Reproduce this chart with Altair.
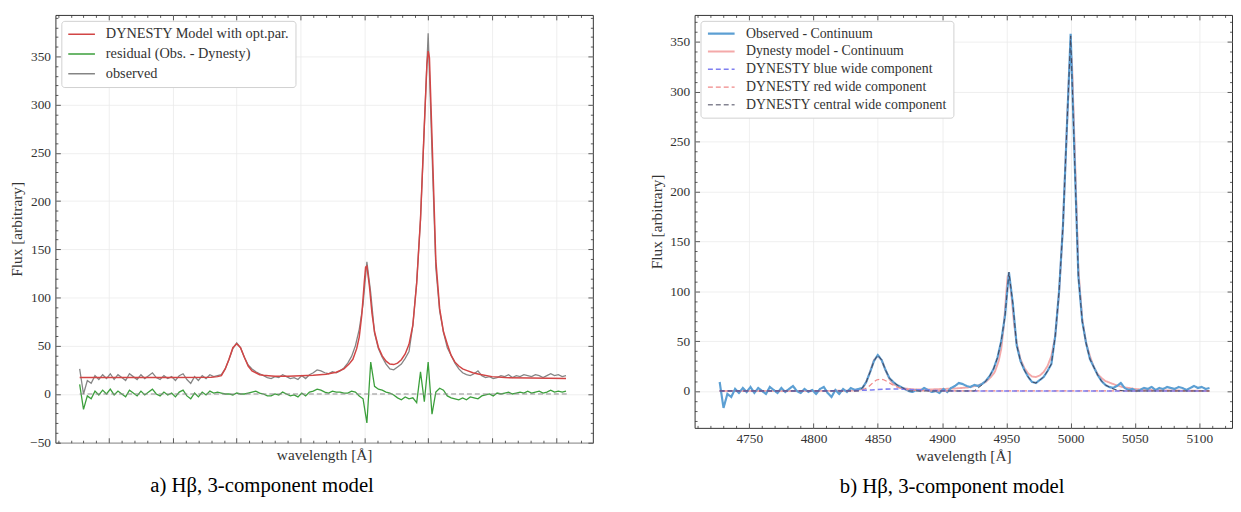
import altair as alt
import pandas as pd

FONT = "Liberation Serif"

# ---------------- data ----------------
WAVE = list(range(4727, 5109, 3))  # common wavelength sampling, 128 points

# right panel: observed - continuum
R_OBS = [9, -17, -3, -6, 2, -2, 3, -1, 4, -2,
         3, 0, -3, 4, 1, -2, 3, -1, 2, 5,
         0, -2, 2, -1, 1, -3, 2, 4, -2, -6,
         1, -3, 2, -1, 3, 1, 2, 3, 9, 19,
         30, 36, 31, 21, 13, 9, 6, 4, 2, 0,
         -1, 1, 0, 3, 1, -1, 0, -2, 2, -1,
         3, 5, 8, 7, 5, 4, 6, 5, 7, 10,
         15, 22, 33, 50, 76, 119, 88, 46, 30, 21,
         14, 9, 8, 11, 14, 20, 27, 55, 100, 165,
         262, 358, 235, 115, 70, 48, 32, 24, 16, 10,
         6, 4, 3, 5, 8, 3, 1, 2, 0, 1,
         3, 2, 4, 1, 3, 2, 4, 3, 2, 4,
         3, 1, 3, 5, 3, 4, 2, 3]

# left panel: observed
L_OBS = [26, 0, 14, 11, 19, 15, 20, 16, 21, 15,
         20, 17, 14, 21, 18, 15, 20, 16, 19, 22,
         17, 15, 19, 16, 18, 14, 19, 21, 15, 11,
         18, 14, 19, 16, 20, 18, 19, 20, 26, 36,
         47, 53, 48, 38, 30, 26, 23, 21, 19, 17,
         16, 18, 17, 20, 18, 16, 17, 15, 19, 16,
         20, 22, 25, 24, 22, 21, 23, 22, 24, 27,
         32, 39, 50, 67, 93, 137, 105, 63, 47, 38,
         31, 26, 25, 28, 31, 37, 44, 71, 116, 181,
         278, 374, 251, 131, 86, 64, 48, 40, 32, 26,
         22, 20, 19, 21, 24, 19, 17, 18, 16, 17,
         19, 18, 20, 17, 19, 18, 20, 19, 18, 20,
         19, 17, 19, 21, 19, 20, 18, 19]

# left panel: residual (Obs. - Dynesty)
L_RES = [10, -16, -2, -5, 3, -1, 4, 0, 5, -1,
         3, 0, -3, 4, 1, -2, 3, -1, 2, 5,
         0, -2, 2, -1, 1, -3, 2, 4, -2, -5,
         1, -3, 2, -1, 3, 1, 2, 1, 0, 0,
         -1, 1, 0, 0, 1, 2, 3, 1, 0, -2,
         -2, 0, -1, 2, 0, -2, -1, -3, 1, -2,
         2, 3, 5, 4, 2, 1, 3, 2, 2, 1,
         1, 3, 2, -2, -5, -30, 33, 8, 5, 4,
         2, 1, -1, -4, -6, -3, -5, -4, -9, 23,
         -8, 33, -21, 2, 6, 4, -2, -4, -5, -6,
         -4, -6, -3, -4, -5, -2, -1, 0, -2, 1,
         0, 1, 2, 0, 1, 2, 1, 3, 1, 2,
         3, 1, 2, 4, 2, 3, 2, 3]

# DYNESTY model (left: with continuum, right: minus continuum)
MODEL_WAVE = [4727, 4760, 4800, 4830, 4835, 4838, 4841, 4844, 4847, 4850,
              4853, 4856, 4859, 4862, 4865, 4868, 4871, 4875, 4880, 4890,
              4900, 4910, 4920, 4928, 4934, 4938, 4941, 4944, 4946, 4948,
              4950, 4951, 4952, 4954, 4956, 4958, 4961, 4964, 4967, 4970,
              4973, 4976, 4979, 4982, 4985, 4988, 4991, 4994, 4997, 4999,
              5000, 5001, 5003, 5006, 5009, 5012, 5015, 5018, 5021, 5024,
              5027, 5030, 5035, 5040, 5050, 5060, 5080, 5108]
R_MODEL = [0, 0, 0, 0.3, 1, 2, 9, 19, 31, 35,
           31, 21, 12, 7, 5, 3, 2.5, 2, 1.5, 1.5,
           2, 2.5, 3.5, 5.5, 9, 14, 19, 30, 42, 65,
           100, 115, 116, 95, 67, 48, 32, 23, 17.5, 14.5,
           14, 15.5, 19, 25, 35, 55, 98, 165, 262, 325,
           339, 332, 250, 122, 72, 48, 35, 24, 17, 13,
           10, 8.5, 6, 4, 2, 1, 0.5, 0]
L_MODEL = [17, 17, 17, 17.3, 18, 19, 26, 36, 48, 52,
           48, 38, 29, 24, 22, 20, 19.5, 19, 18.5, 18.5,
           19, 19.5, 20.5, 22.5, 26, 31, 36, 47, 59, 82,
           116.5, 131.5, 132.5, 111.5, 83.5, 64.5, 48.5, 39.5, 34, 31,
           30.5, 32, 35.5, 41.5, 51.5, 71.5, 114.5, 181.5, 278.5, 341.5,
           355.5, 348.5, 266.5, 138.5, 88.5, 64.5, 51.5, 40, 33, 29,
           26, 24.5, 22, 20.5, 18, 17, 16.5, 16]

BLUE_WAVE = [4727, 4800, 4830, 4845, 4855, 4865, 4875, 4890, 4910, 5108]
BLUE_WIDE = [0, 0, 0.3, 1, 1.8, 2, 1.5, 0.6, 0, 0]

RED_WAVE = [4727, 4830, 4836, 4840, 4843, 4846, 4849, 4852, 4855, 4858,
            4861, 4864, 4867, 4870, 4875, 4880, 4890, 5108]
RED_WIDE = [0, 0, 0.5, 2, 4.5, 8, 11, 12, 11, 9,
            6.5, 4.5, 3, 2, 1, 0.5, 0, 0]

CENTRAL_WAVE = [4727, 4835, 4838, 4841, 4844, 4847, 4850, 4853, 4856, 4859,
                4862, 4865, 4868, 4871, 4874, 4925, 4931, 4934, 4937, 4940,
                4943, 4946, 4949, 4952, 4955, 4958, 4961, 4964, 4967, 4970,
                4973, 4976, 4979, 4982, 4985, 4988, 4991, 4994, 4997, 5000,
                5003, 5006, 5009, 5012, 5015, 5018, 5021, 5024, 5027, 5030,
                5033, 5036, 5042, 5108]
CENTRAL_WIDE = [0, 0, 3, 9, 19, 30, 36, 31, 21, 13,
                9, 6, 4, 2, 0, 0, 6, 10, 15, 22,
                33, 50, 76, 119, 88, 46, 30, 21, 14, 9,
                8, 11, 14, 20, 27, 55, 100, 165, 262, 356,
                235, 115, 70, 48, 32, 24, 16, 10, 6, 4,
                2, 1, 0, 0]

ZERO_WAVE = [4727, 5110]
ZERO_VAL = [0, 0]

LEFT_SERIES = ["DYNESTY Model with opt.par.", "residual (Obs. - Dynesty)", "observed"]
LEFT_COLORS = ["#d24545", "#3b9f3b", "#858585"]
RIGHT_SERIES = ["Observed - Continuum", "Dynesty model - Continuum",
                "DYNESTY blue wide component", "DYNESTY red wide component",
                "DYNESTY central wide component"]
RIGHT_COLORS = ["#5c9fd3", "#f4a9a9", "#7f7ff0", "#f08888", "#45455a"]
RIGHT_DASH = [[1, 0], [1, 0], [5, 3], [5, 3], [5, 3]]
RIGHT_WIDTH = [2.2, 1.0, 1.6, 1.6, 1.6]

X_MAJOR = [4750, 4800, 4850, 4900, 4950, 5000, 5050, 5100]
X_MINOR = [v for v in range(4710, 5130, 10) if v % 50 != 0]
L_Y_MAJOR = [-50, 0, 50, 100, 150, 200, 250, 300, 350]
L_Y_MINOR = [v for v in range(-50, 395, 10) if v % 50 != 0]
R_Y_MAJOR = [0, 50, 100, 150, 200, 250, 300, 350]
R_Y_MINOR = [v for v in range(-30, 380, 10) if v % 50 != 0]


def frame(w, f, name):
    assert len(w) == len(f), name
    return pd.DataFrame({"w": w, "f": f, "series": name})


left_df = pd.concat([
    frame(WAVE, L_OBS, LEFT_SERIES[2]),
    frame(MODEL_WAVE, L_MODEL, LEFT_SERIES[0]),
    frame(WAVE, L_RES, LEFT_SERIES[1]),
])
zero_df = frame(ZERO_WAVE, ZERO_VAL, "zero")
right_df = pd.concat([
    frame(MODEL_WAVE, R_MODEL, RIGHT_SERIES[1]),
    frame(WAVE, R_OBS, RIGHT_SERIES[0]),
    frame(RED_WAVE, RED_WIDE, RIGHT_SERIES[3]),
    frame(BLUE_WAVE, BLUE_WIDE, RIGHT_SERIES[2]),
    frame(CENTRAL_WAVE, CENTRAL_WIDE, RIGHT_SERIES[4]),
])


def tick_layers(df, xs, ys, ymaj, ymin):
    layers = []
    for xo, yo, xv, yv, sz in [("bottom", "left", X_MAJOR, ymaj, 5),
                               ("bottom", "left", X_MINOR, ymin, 2.5),
                               ("top", "right", X_MAJOR, ymaj, 5),
                               ("top", "right", X_MINOR, ymin, 2.5)]:
        ax = alt.Axis(orient=xo, values=xv, labels=False, domain=False, grid=False,
                      ticks=True, tickSize=sz, offset=-sz, title=None,
                      tickColor="#333333", tickWidth=0.8)
        ay = alt.Axis(orient=yo, values=yv, labels=False, domain=False, grid=False,
                      ticks=True, tickSize=sz, offset=-sz, title=None,
                      tickColor="#333333", tickWidth=0.8)
        layers.append(
            alt.Chart(df).mark_point(opacity=0).encode(
                x=alt.X("w:Q", scale=xs, axis=ax),
                y=alt.Y("f:Q", scale=ys, axis=ay),
            )
        )
    return layers


def legend(size, rowpad, cliph):
    return alt.Legend(title=None, orient="top-left", offset=6, padding=6,
                      strokeColor="#d0d0d0", fillColor="white", cornerRadius=3,
                      labelFont=FONT, labelFontSize=size, labelColor="#333333",
                      symbolType="stroke", symbolSize=729, symbolStrokeWidth=1.5,
                      labelOffset=10, rowPadding=rowpad, clipHeight=cliph,
                      labelLimit=400)


GRID = dict(grid=True, gridColor="#ebebeb", gridWidth=0.8, domain=False, ticks=False,
            labelFont=FONT, titleFont=FONT, labelColor="#333333", titleColor="#333333",
            titleFontWeight="normal", format="d")

# ---------------- left panel ----------------
lx = alt.Scale(domain=[4708, 5129], nice=False, zero=False)
ly = alt.Scale(domain=[-50.5, 393], nice=False, zero=False)
l_color = alt.Color("series:N", scale=alt.Scale(domain=LEFT_SERIES, range=LEFT_COLORS),
                    legend=legend(14.5, 4, 15))

l_main_x = alt.Axis(values=X_MAJOR, labels=False, title="wavelength [Å]",
                    titleFontSize=15.5, titlePadding=5, **GRID)
l_main_y = alt.Axis(values=L_Y_MAJOR, labelFontSize=13.5, labelPadding=5,
                    title="Flux [arbitrary]", titleFontSize=15.5, titlePadding=5, **GRID)

left_layers = [
    alt.Chart(left_df[left_df.series == LEFT_SERIES[2]]).mark_line(strokeWidth=1.3, clip=True).encode(
        x=alt.X("w:Q", scale=lx, axis=l_main_x), y=alt.Y("f:Q", scale=ly, axis=l_main_y), color=l_color),
    alt.Chart(left_df[left_df.series == LEFT_SERIES[0]]).mark_line(strokeWidth=1.5, clip=True).encode(
        x=alt.X("w:Q", scale=lx, axis=None), y=alt.Y("f:Q", scale=ly, axis=None), color=l_color),
    alt.Chart(left_df[left_df.series == LEFT_SERIES[1]]).mark_line(strokeWidth=1.3, clip=True).encode(
        x=alt.X("w:Q", scale=lx, axis=None), y=alt.Y("f:Q", scale=ly, axis=None), color=l_color),
    alt.Chart(zero_df).mark_line(strokeWidth=1, strokeDash=[5, 3], color="#8a8a8a", clip=True).encode(
        x=alt.X("w:Q", scale=lx, axis=None), y=alt.Y("f:Q", scale=ly, axis=None)),
] + tick_layers(left_df, lx, ly, L_Y_MAJOR, L_Y_MINOR)

left = alt.layer(*left_layers).resolve_axis(x="independent", y="independent").properties(
    width=544, height=433,
    title=alt.TitleParams(text="a) Hβ, 3-component model", orient="bottom", anchor="start",
                          frame="group", dx=96, offset=12, font=FONT, fontSize=21,
                          fontWeight="normal", color="black"),
)

# ---------------- right panel ----------------
rx = alt.Scale(domain=[4707.5, 5125.5], nice=False, zero=False)
ry = alt.Scale(domain=[-37, 377], nice=False, zero=False)
r_leg = legend(14, 4, 14)
r_color = alt.Color("series:N", scale=alt.Scale(domain=RIGHT_SERIES, range=RIGHT_COLORS), legend=r_leg)
r_dash = alt.StrokeDash("series:N", scale=alt.Scale(domain=RIGHT_SERIES, range=RIGHT_DASH), legend=r_leg)
r_width = alt.StrokeWidth("series:N", scale=alt.Scale(domain=RIGHT_SERIES, range=RIGHT_WIDTH), legend=r_leg)

r_main_x = alt.Axis(values=X_MAJOR, labelFontSize=13.5, labelPadding=4, title="wavelength [Å]",
                    titleFontSize=15.5, titlePadding=4, **GRID)
r_main_y = alt.Axis(values=R_Y_MAJOR, labelFontSize=13.5, labelPadding=5,
                    title="Flux [arbitrary]", titleFontSize=15.5, titlePadding=5, **GRID)

right_layers = []
for i, name in enumerate([RIGHT_SERIES[1], RIGHT_SERIES[0], RIGHT_SERIES[3],
                          RIGHT_SERIES[2], RIGHT_SERIES[4]]):
    right_layers.append(
        alt.Chart(right_df[right_df.series == name]).mark_line(clip=True).encode(
            x=alt.X("w:Q", scale=rx, axis=r_main_x if i == 0 else None),
            y=alt.Y("f:Q", scale=ry, axis=r_main_y if i == 0 else None),
            color=r_color, strokeDash=r_dash, strokeWidth=r_width,
        )
    )
right_layers += tick_layers(right_df, rx, ry, R_Y_MAJOR, R_Y_MINOR)

right = alt.layer(*right_layers).resolve_axis(x="independent", y="independent").properties(
    width=544, height=418,
    title=alt.TitleParams(text="b) Hβ, 3-component model", orient="bottom", anchor="start",
                          frame="group", dx=147, offset=12, font=FONT, fontSize=21,
                          fontWeight="normal", color="black"),
)

chart = alt.hconcat(left, right, spacing=56).resolve_scale(
    color="independent", strokeDash="independent", strokeWidth="independent"
).properties(
    padding={"left": 1, "top": 3, "right": 0, "bottom": 0}
).configure_view(
    stroke="#333333", strokeWidth=1
).configure_axis(
    labelFont=FONT, titleFont=FONT, labelColor="#333333", titleColor="#333333",
    titleFontWeight="normal"
)

chart.save("out.html", embed_options={"renderer": "svg", "actions": False})
